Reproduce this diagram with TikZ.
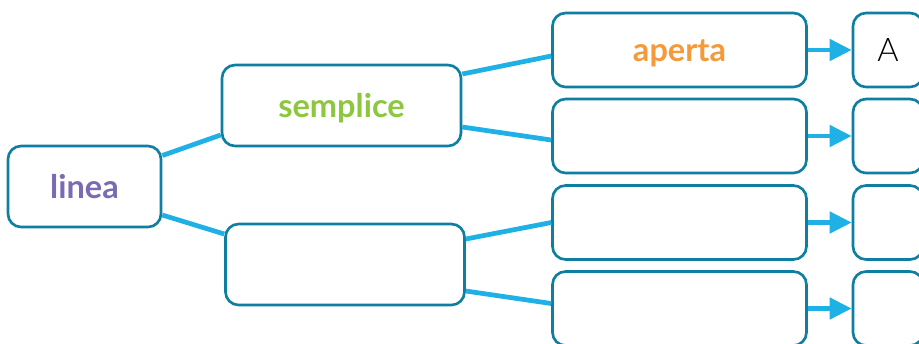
\documentclass[tikz,border=0pt]{standalone}
\usepackage{fontspec}
\setmainfont{Lato}
\newfontfamily\lightfont{Lato Light}
\usepackage{xcolor}
\definecolor{boxteal}{RGB}{14, 127, 161}
\definecolor{lineblue}{RGB}{31, 177, 230}
\definecolor{lineapurple}{RGB}{122, 107, 179}
\definecolor{semplicegreen}{RGB}{141, 198, 63}
\definecolor{apertaorange}{RGB}{245, 154, 58}
\usetikzlibrary{arrows.meta, calc}

\begin{document}
\begin{tikzpicture}[
    x=0.02cm, y=-0.02cm,
    conn/.style={line width=2.7pt, lineblue},
    arr/.style={conn, -{Triangle[length=4.4mm, width=4.2mm]}},
    box/.style={draw=boxteal, line width=1.5pt, rounded corners=2.6mm,
                fill=white, inner sep=0pt, minimum height=1.62cm,
                text height=13.6pt, text depth=0pt,
                font=\fontsize{18.5}{20}\selectfont\bfseries},
    leaf/.style={box, minimum width=5.08cm, minimum height=1.48cm},
    end/.style={box, minimum width=1.4cm, minimum height=1.48cm,
                font=\fontsize{18.5}{20}\selectfont\lightfont}
  ]
    \useasboundingbox (0,0) rectangle (919,343);

    % tree
    \node[box, minimum width=3.06cm, text=lineapurple] (lin) at (84.5,186.5) {linea};
    \node[box, minimum width=4.78cm, text=semplicegreen] (sem) at (341.5,105.5) {semplice};
    \node[box, minimum width=4.78cm] (low) at (345,264.5) {};

    \node[leaf, text=apertaorange] (ap) at (679.5,50) {aperta};
    \node[leaf] (lf2) at (679.5,136) {};
    \node[leaf] (lf3) at (679.5,222.5) {};
    \node[leaf] (lf4) at (679.5,308.5) {};

    \node[end] (e1) at (888,50) {A};
    \node[end] (e2) at (888,136) {};
    \node[end] (e3) at (888,222.5) {};
    \node[end] (e4) at (888,308.5) {};

    % connectors
    \draw[conn] ($(lin.east)+(0,-31)$) -- ($(sem.west)+(0,29.5)$);
    \draw[conn] ($(lin.east)+(0,28.5)$) -- ($(low.west)+(0,-30.5)$);
    \draw[conn] ($(sem.east)+(0,-31.5)$) -- ($(ap.west)+(0,6)$);
    \draw[conn] ($(sem.east)+(0,21.5)$) -- ($(lf2.west)+(0,4)$);
    \draw[conn] ($(low.east)+(0,-25.5)$) -- (lf3.west);
    \draw[conn] ($(low.east)+(0,26.5)$) -- ($(lf4.west)+(0,-5)$);

    \foreach \a/\b in {ap/e1, lf2/e2, lf3/e3, lf4/e4}
      \draw[arr] (\a) -- (\b);
\end{tikzpicture}
\end{document}
